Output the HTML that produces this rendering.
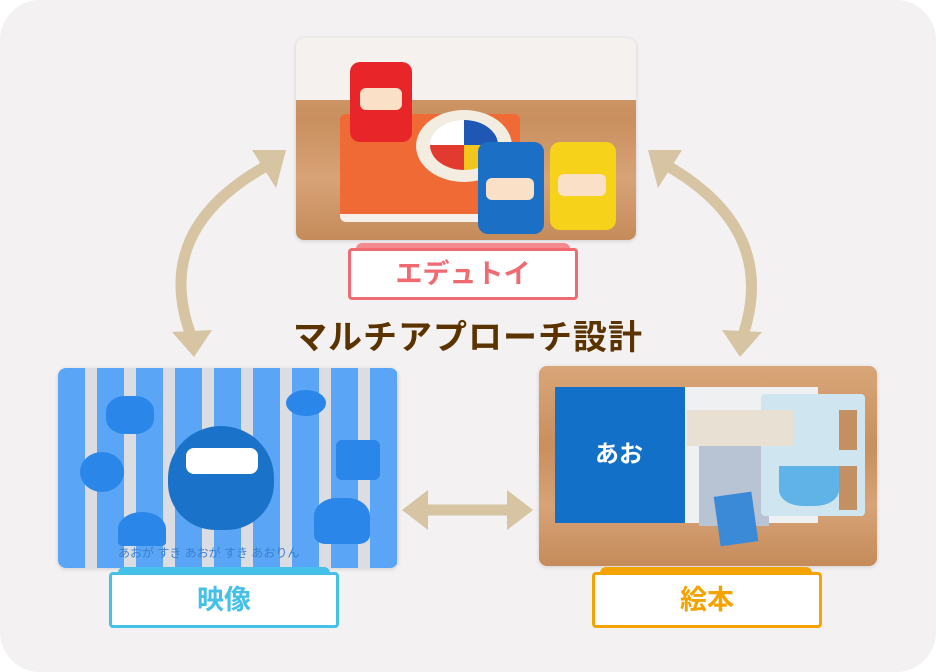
<!DOCTYPE html>
<html><head><meta charset="utf-8"><style>
html,body{margin:0;padding:0;background:#fff;}
body{width:936px;height:672px;position:relative;overflow:hidden;font-family:"Liberation Sans","Noto Sans CJK JP",sans-serif;}
.card{position:absolute;left:0;top:0;width:936px;height:672px;border-radius:40px;background:#f3f1f1;}
.img{position:absolute;border-radius:8px;overflow:hidden;box-shadow:0 1px 4px rgba(0,0,0,.15);}
.lab{position:absolute;background:#fff;border:3px solid;border-radius:4px;box-sizing:border-box;text-align:center;font-weight:bold;font-size:27px;}
.tab{position:absolute;height:10px;border-radius:6px 6px 0 0;}
.title{position:absolute;left:0;width:936px;top:310px;text-align:center;font-size:34px;font-weight:bold;color:#5a3300;letter-spacing:1px;}
.wood{background:linear-gradient(180deg,#d9a679 0%,#c98f5e 40%,#d7a377 70%,#c58b5a 100%);}
</style></head><body>
<div class="card"></div>

<svg width="936" height="672" style="position:absolute;left:0;top:0">
<g fill="none" stroke="#d6c4a3" stroke-width="11" stroke-linecap="round">
<path d="M192 338 Q150 230 268 165"/>
<path d="M666 165 Q780 230 742 338"/>
<path d="M420 510 L515 510"/>
</g>
<g fill="#d6c4a3">
<polygon points="286,150 252,150 276,188"/>
<polygon points="172,332 212,330 194,357"/>
<polygon points="648,150 682,150 658,188"/>
<polygon points="722,330 762,332 740,357"/>
<polygon points="402,510 428,490 428,530"/>
<polygon points="533,510 507,490 507,530"/>
</g>
</svg>

<!-- top photo -->
<div class="img wood" style="left:296px;top:38px;width:340px;height:202px;">
<div style="position:absolute;left:0;top:0;width:340px;height:62px;background:#f4f1ee"></div>
<div style="position:absolute;left:44px;top:76px;width:180px;height:100px;background:#ef6a34;border-radius:6px;border-bottom:8px solid #f5f0ea"></div>
<div style="position:absolute;left:54px;top:24px;width:62px;height:80px;background:#e8262a;border-radius:10px"></div>
<div style="position:absolute;left:64px;top:50px;width:42px;height:22px;background:#fbe0c8;border-radius:6px"></div>
<div style="position:absolute;left:120px;top:72px;width:96px;height:72px;background:#f3ece0;border-radius:50%"></div>
<div style="position:absolute;left:134px;top:82px;width:68px;height:50px;background:conic-gradient(#1f57b5 0 25%,#f2c61f 0 50%,#e23a2f 0 75%,#fff 0);border-radius:50%"></div>
<div style="position:absolute;left:182px;top:104px;width:66px;height:92px;background:#1b6fc5;border-radius:10px"></div>
<div style="position:absolute;left:190px;top:140px;width:48px;height:22px;background:#fbe0c8;border-radius:6px"></div>
<div style="position:absolute;left:254px;top:104px;width:66px;height:88px;background:#f7d21a;border-radius:10px"></div>
<div style="position:absolute;left:262px;top:136px;width:48px;height:22px;background:#fbe0c8;border-radius:6px"></div>
</div>
<div class="tab" style="left:356px;top:243px;width:214px;background:#f38a90"></div>
<div class="lab" style="left:348px;top:248px;width:230px;height:52px;line-height:46px;border-color:#f06a72;color:#f06a72">エデュトイ</div>

<div class="title">マルチアプローチ設計</div>

<!-- left image -->
<div class="img" style="left:58px;top:368px;width:340px;height:200px;background:repeating-linear-gradient(90deg,#5aa5f5 0 27px,#dcdde3 27px 39px);">
<div style="position:absolute;left:110px;top:58px;width:106px;height:104px;background:#1a73c8;border-radius:50% 50% 45% 45%"></div>
<div style="position:absolute;left:128px;top:80px;width:72px;height:26px;background:#fff;border-radius:8px"></div>
<div style="position:absolute;left:48px;top:28px;width:48px;height:38px;background:#2a86e8;border-radius:40%"></div>
<div style="position:absolute;left:228px;top:22px;width:40px;height:26px;background:#2a86e8;border-radius:50%"></div>
<div style="position:absolute;left:22px;top:84px;width:44px;height:40px;background:#2a86e8;border-radius:50%"></div>
<div style="position:absolute;left:278px;top:72px;width:44px;height:40px;background:#2a86e8;border-radius:6px"></div>
<div style="position:absolute;left:60px;top:144px;width:48px;height:34px;background:#2a86e8;border-radius:50% 50% 10% 10%"></div>
<div style="position:absolute;left:256px;top:130px;width:56px;height:46px;background:#2a86e8;border-radius:40% 40% 20% 20%"></div>
<div style="position:absolute;left:60px;top:176px;font-size:12px;color:#3b7fcf">あおが すき あおが すき あおりん</div>
</div>
<div class="tab" style="left:118px;top:567px;width:212px;background:#45c0e8"></div>
<div class="lab" style="left:109px;top:572px;width:230px;height:56px;line-height:50px;border-color:#45c0e8;color:#45c0e8">映像</div>

<!-- right image -->
<div class="img wood" style="left:539px;top:366px;width:338px;height:200px;">
<div style="position:absolute;left:16px;top:21px;width:130px;height:136px;background:#1270c8;"></div>
<div style="position:absolute;left:56px;top:68px;font-size:24px;color:#fff;font-weight:bold">あお</div>
<div style="position:absolute;left:146px;top:21px;width:133px;height:136px;background:#eef0f2;"></div>
<div style="position:absolute;left:160px;top:70px;width:70px;height:90px;background:#b8c4d4;"></div>
<div style="position:absolute;left:222px;top:28px;width:104px;height:122px;background:#cfe6f0;border-radius:4px"></div>
<div style="position:absolute;left:240px;top:100px;width:60px;height:40px;background:#5fb3e6;border-radius:0 0 40% 40%"></div>
<div style="position:absolute;left:300px;top:44px;width:18px;height:40px;background:#c39064"></div>
<div style="position:absolute;left:300px;top:100px;width:18px;height:44px;background:#c39064"></div>
<div style="position:absolute;left:148px;top:44px;width:106px;height:36px;background:#e8e0d2"></div>
<div style="position:absolute;left:178px;top:128px;width:38px;height:50px;background:#3a8ad8;transform:rotate(-8deg)"></div>
</div>
<div class="tab" style="left:600px;top:567px;width:212px;background:#f5a300"></div>
<div class="lab" style="left:592px;top:572px;width:230px;height:56px;line-height:50px;border-color:#f5a300;color:#f5a300">絵本</div>
</body></html>
